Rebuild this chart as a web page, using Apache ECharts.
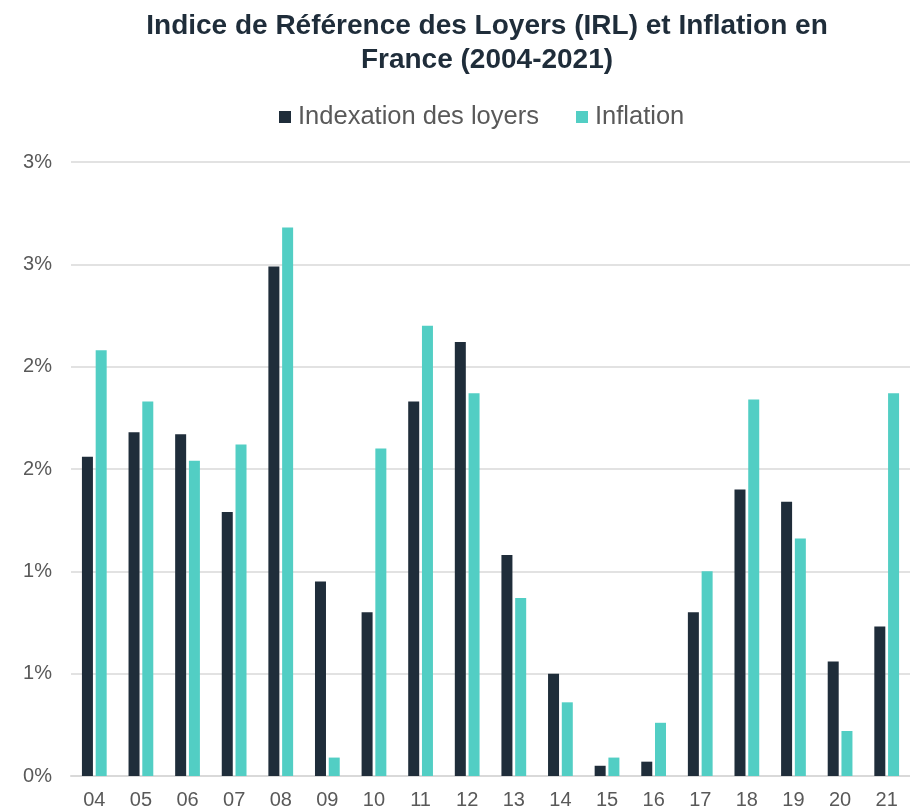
<!DOCTYPE html>
<html>
	<head>
		<meta charset="utf-8">
		<title>IRL et Inflation</title>
		<script src="https://cdn.jsdelivr.net/npm/echarts@6/dist/echarts.min.js"></script>
		<style>
			html, body { margin: 0; padding: 0; background: #fff; }
		</style>
	</head>
	<body>
		<div id="main" style="width: 910px;height:810px;"></div>
		<script type="text/javascript">
			// années (2004-2021)
			var annees = ['04', '05', '06', '07', '08', '09', '10', '11', '12', '13', '14', '15', '16', '17', '18', '19', '20', '21'];
			// valeurs en %
			var indexation = [1.56, 1.68, 1.67, 1.29, 2.49, 0.95, 0.80, 1.83, 2.12, 1.08, 0.50, 0.05, 0.07, 0.80, 1.40, 1.34, 0.56, 0.73];
			var inflation = [2.08, 1.83, 1.54, 1.62, 2.68, 0.09, 1.60, 2.20, 1.87, 0.87, 0.36, 0.09, 0.26, 1.00, 1.84, 1.16, 0.22, 1.87];

			var myChart = echarts.init(document.getElementById('main'));

			var option = {
				textStyle: { fontFamily: 'Liberation Sans, Arial, sans-serif' },
				title: {
					text: 'Indice de Référence des Loyers (IRL) et Inflation en\nFrance (2004-2021)',
					left: 482,
					top: 4,
					textAlign: 'center',
					textStyle: {
						fontSize: 28,
						fontWeight: 'bold',
						color: '#1f2d3a',
						lineHeight: 34
					}
				},
				legend: {
					top: 99,
					left: 274,
					itemWidth: 12,
					itemHeight: 12,
					itemGap: 37,
					icon: 'rect',
					textStyle: { fontSize: 25.5, color: '#595959', padding: [0, 0, 0, 2] },
					data: ['Indexation des loyers', 'Inflation']
				},
				grid: {
					left: 71,
					right: -7,
					top: 162,
					bottom: 34
				},
				xAxis: {
					type: 'category',
					data: annees,
					axisTick: { show: false },
					axisLine: { lineStyle: { color: '#d9d9d9', width: 2 } },
					axisLabel: { fontSize: 20, color: '#595959', margin: 14 }
				},
				yAxis: {
					type: 'value',
					min: 0,
					max: 3,
					interval: 0.5,
					axisLabel: {
						fontSize: 20,
						color: '#595959',
						margin: 19,
						formatter: function (v) { return Math.round(v) + '%'; }
					},
					splitLine: { lineStyle: { color: '#d9d9d9', width: 1.5 } }
				},
				series: [
					{
						name: 'Indexation des loyers',
						type: 'bar',
						data: indexation,
						barWidth: 11,
						barGap: '25%',
						itemStyle: { color: '#1f2d3a' }
					},
					{
						name: 'Inflation',
						type: 'bar',
						data: inflation,
						barWidth: 11,
						barGap: '25%',
						itemStyle: { color: '#52cec4' }
					}
				]
			};

			myChart.setOption(option);
		</script>
	</body>
</html>
